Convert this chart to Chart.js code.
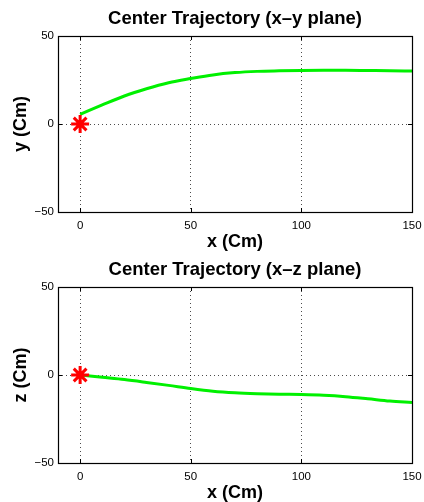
<!DOCTYPE html>
<html>
<head>
<meta charset="utf-8">
<script src="https://cdn.jsdelivr.net/npm/chart.js@4.4.0/dist/chart.umd.min.js"></script>
<style>
  html, body { margin: 0; padding: 0; background: #fff; }
  #wrap { position: relative; width: 424px; height: 502px; }
  .box { position: absolute; left: 0; width: 424px; height: 251px; }
</style>
</head>
<body>
<div id="wrap">
  <div class="box" style="top:0"><canvas id="xyChart" width="424" height="251"></canvas></div>
  <div class="box" style="top:251px"><canvas id="xzChart" width="424" height="251"></canvas></div>
</div>
<script>
// === DATA ===
const xValues = [0, 10, 20, 30, 40, 50, 60, 70, 80, 90, 100, 110, 120, 130, 140, 150];
const yValues = [5.5, 10.8, 15.9, 20.0, 23.4, 25.8, 27.9, 29.2, 29.9, 30.2, 30.4, 30.5, 30.5, 30.4, 30.3, 30.1];
const zValues = [0, -1.3, -2.6, -4.2, -5.9, -7.7, -9.2, -10.1, -10.6, -10.9, -11.1, -11.5, -12.3, -13.5, -14.8, -15.6];
const startX = [0];
const startY = [0];
const xTicks = [0, 50, 100, 150];
const yTicks = [-50, 0, 50];

const FONT = "'Liberation Sans', Arial, Helvetica, sans-serif";

// box round the plot area, inward ticks and a title centred over the axes (MATLAB style)
const boxPlugin = {
    id: 'matlabBox',
    afterDraw(chart, args, opts) {
        const { ctx, chartArea: a, scales } = chart;
        ctx.save();
        ctx.strokeStyle = '#000';
        ctx.lineWidth = 1;
        ctx.beginPath();
        scales.x.ticks.forEach(t => {
            const px = Math.round(scales.x.getPixelForValue(t.value)) + 0.5;
            ctx.moveTo(px, a.bottom); ctx.lineTo(px, a.bottom - 4);
            ctx.moveTo(px, a.top); ctx.lineTo(px, a.top + 4);
        });
        scales.y.ticks.forEach(t => {
            const py = Math.round(scales.y.getPixelForValue(t.value)) + 0.5;
            ctx.moveTo(a.left, py); ctx.lineTo(a.left + 4, py);
            ctx.moveTo(a.right, py); ctx.lineTo(a.right - 4, py);
        });
        ctx.stroke();
        ctx.lineWidth = 1.2;
        ctx.strokeRect(Math.round(a.left) + 0.5, Math.round(a.top) + 0.5,
            Math.round(a.right - a.left), Math.round(a.bottom - a.top));

        // title
        ctx.fillStyle = '#000';
        ctx.font = 'bold 18.5px ' + FONT;
        ctx.textAlign = 'center';
        ctx.textBaseline = 'middle';
        ctx.fillText(opts.text, (a.left + a.right) / 2, 18.5);
        ctx.restore();
    }
};

function makeChart(id, title, yLabel, values) {
    const line = xValues.map((x, i) => ({ x: x, y: values[i] }));
    const start = startX.map((x, i) => ({ x: x, y: startY[i] }));
    return new Chart(document.getElementById(id), {
        type: 'scatter',
        data: {
            datasets: [
                {
                    data: start,
                    pointStyle: 'star',
                    pointRadius: 9,
                    borderColor: '#ff0000',
                    backgroundColor: '#ff0000',
                    borderWidth: 3,
                    showLine: false
                },
                {
                    data: line,
                    showLine: true,
                    borderColor: '#00f000',
                    borderWidth: 3,
                    pointRadius: 0,
                    cubicInterpolationMode: 'monotone'
                }
            ]
        },
        options: {
            responsive: false,
            animation: false,
            events: [],
            layout: { padding: { left: 0, right: 11, top: 36, bottom: 0 } },
            plugins: {
                legend: { display: false },
                tooltip: { enabled: false },
                title: { display: false },
                matlabBox: { text: title }
            },
            scales: {
                x: {
                    type: 'linear',
                    min: -10,
                    max: 150,
                    afterBuildTicks: s => { s.ticks = xTicks.map(v => ({ value: v })); },
                    afterFit: s => { s.height = 39; s.paddingLeft = 0; s.paddingRight = 0; },
                    ticks: {
                        color: '#000',
                        font: { family: FONT, size: 11.5 },
                        padding: 7,
                        maxRotation: 0,
                        callback: v => String(v).replace('-', '\u2212')
                    },
                    grid: { color: 'rgba(0,0,0,0.7)', lineWidth: 1, drawTicks: false },
                    border: { display: false, dash: [1, 3] },
                    title: {
                        display: true,
                        text: 'x (Cm)',
                        color: '#000',
                        font: { family: FONT, size: 18, weight: 'bold', lineHeight: 1 },
                        padding: { top: 0, bottom: 0 }
                    }
                },
                y: {
                    type: 'linear',
                    min: -50,
                    max: 50,
                    afterBuildTicks: s => { s.ticks = yTicks.map(v => ({ value: v })); },
                    afterFit: s => { s.width = 58; },
                    ticks: {
                        color: '#000',
                        font: { family: FONT, size: 11.5 },
                        padding: 4,
                        callback: v => String(v).replace('-', '\u2212')
                    },
                    grid: { color: 'rgba(0,0,0,0.7)', lineWidth: 1, drawTicks: false },
                    border: { display: false, dash: [1, 3] },
                    title: {
                        display: true,
                        text: yLabel,
                        color: '#000',
                        font: { family: FONT, size: 18, weight: 'bold', lineHeight: 1 },
                        padding: { top: 12, bottom: 0 }
                    }
                }
            }
        },
        plugins: [boxPlugin]
    });
}

makeChart('xyChart', 'Center Trajectory (x\u2013y plane)', 'y (Cm)', yValues);
makeChart('xzChart', 'Center Trajectory (x\u2013z plane)', 'z (Cm)', zValues);
</script>
</body>
</html>
